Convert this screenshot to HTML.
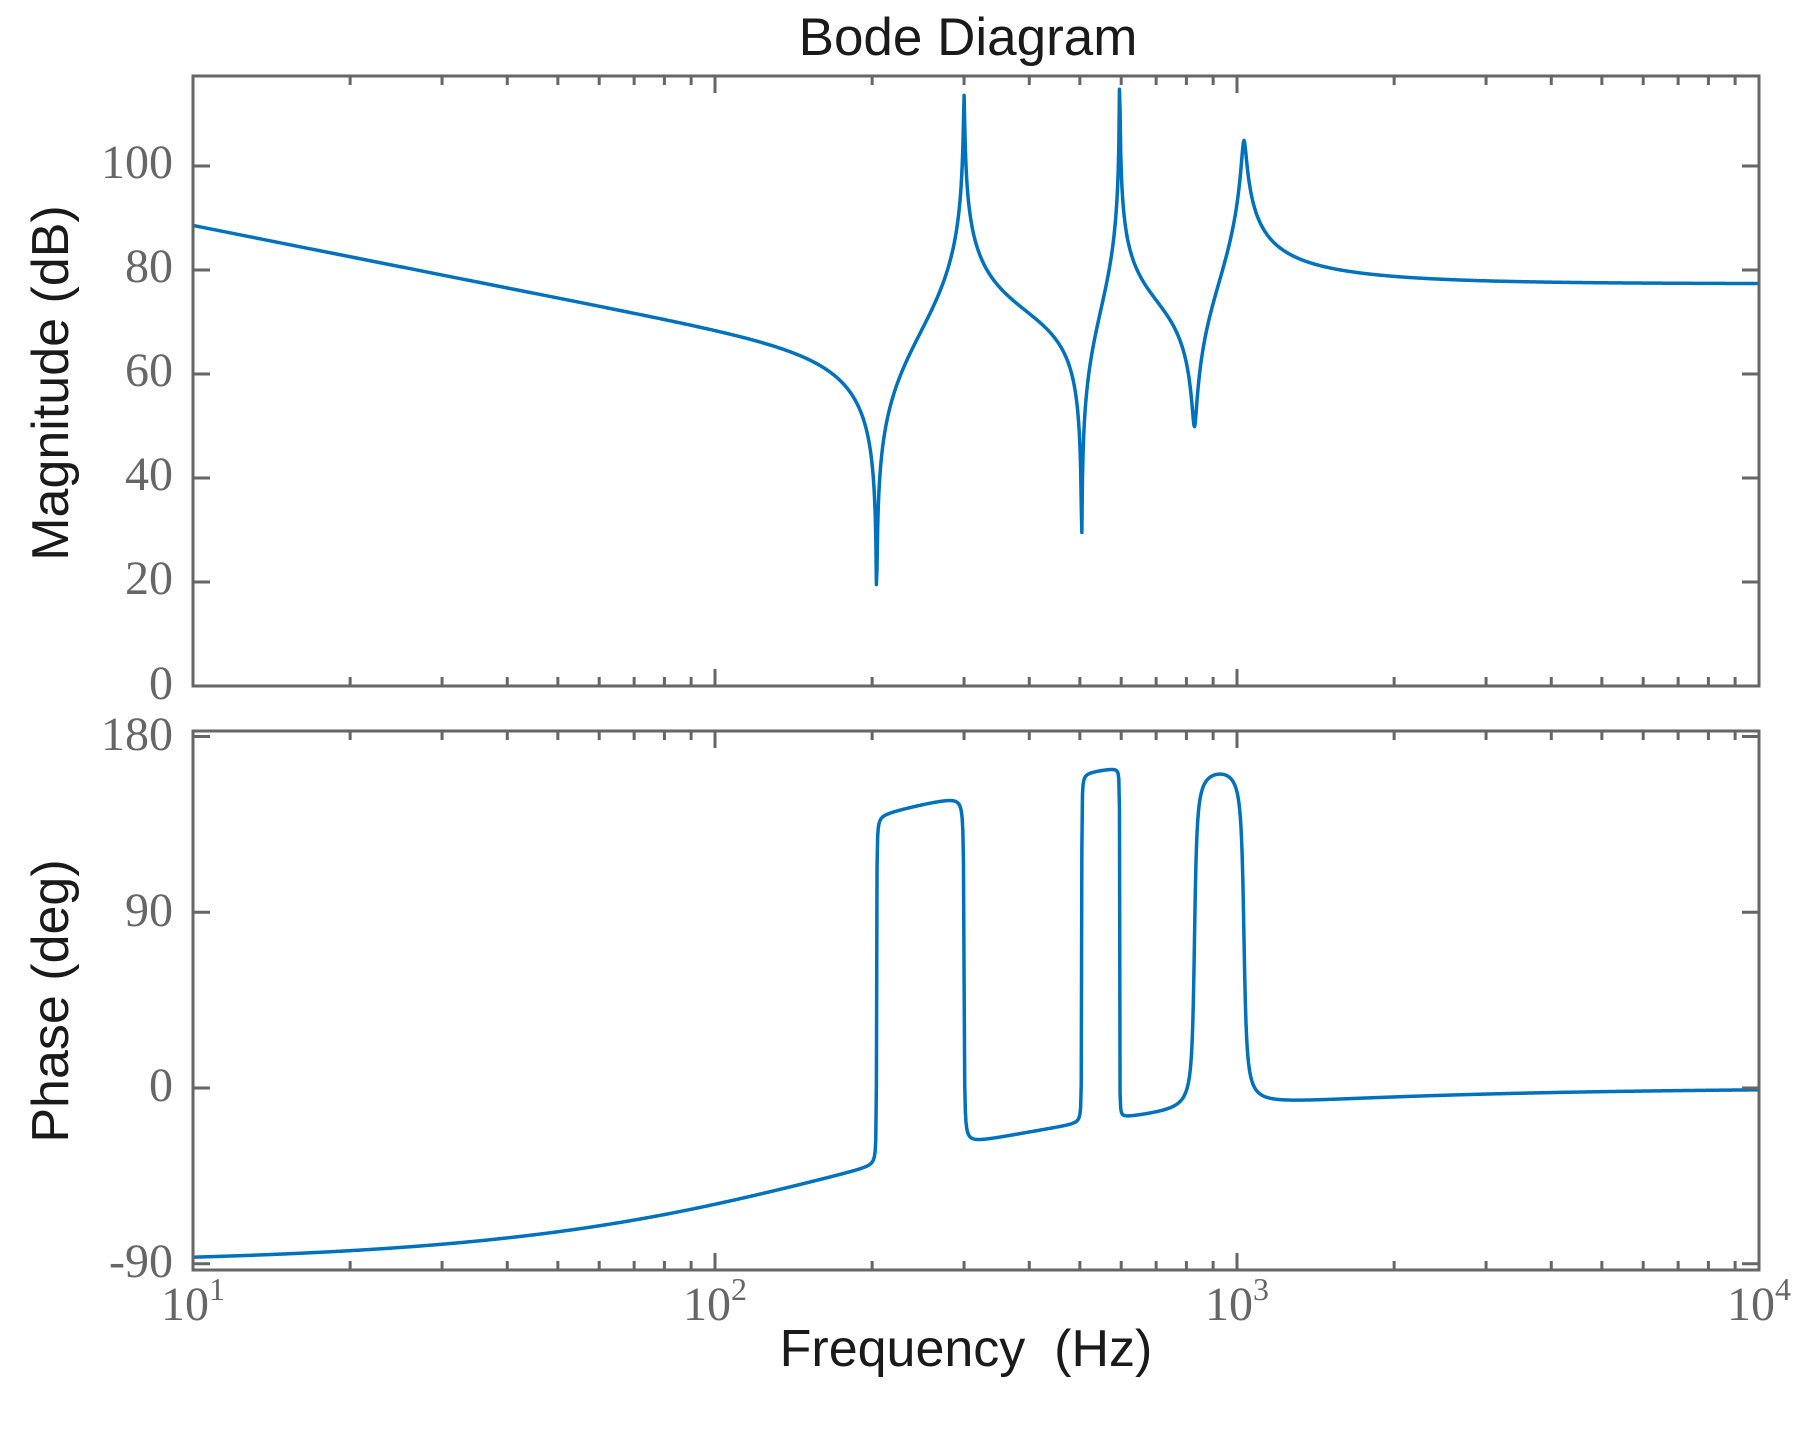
<!DOCTYPE html>
<html><head><meta charset="utf-8"><style>html,body{margin:0;padding:0;background:#fff}svg{display:block}</style></head>
<body>
<svg id="s" width="1808" height="1433" viewBox="0 0 1808 1433" xmlns="http://www.w3.org/2000/svg">
<defs>
<clipPath id="c1"><rect x="193" y="76" width="1566" height="610"/></clipPath>
<clipPath id="c2"><rect x="193" y="731" width="1566" height="539"/></clipPath>
</defs>
<rect width="1808" height="1433" fill="#fff"/>
<path id="magp" d="" fill="none" stroke="#0072BD" stroke-width="3.5" stroke-linejoin="round" clip-path="url(#c1)"/>
<path id="php" d="" fill="none" stroke="#0072BD" stroke-width="3.5" stroke-linejoin="round" clip-path="url(#c2)"/>
<g id="ticks" stroke="#666" stroke-width="3" fill="none"></g>
<rect x="193" y="76" width="1566" height="610" fill="none" stroke="#666" stroke-width="3"/>
<rect x="193" y="731" width="1566" height="539" fill="none" stroke="#666" stroke-width="3"/>
<g font-family="Liberation Serif, serif" font-size="48" fill="#666" text-anchor="end">
<text x="173" y="178">100</text>
<text x="173" y="282">80</text>
<text x="173" y="386">60</text>
<text x="173" y="490">40</text>
<text x="173" y="594">20</text>
<text x="173" y="699">0</text>
<text x="173" y="750">180</text>
<text x="173" y="926">90</text>
<text x="173" y="1101">0</text>
<text x="173" y="1277">-90</text>
</g>
<g font-family="Liberation Serif, serif" fill="#666" text-anchor="middle">
<text x="193" y="1320" font-size="48">10<tspan font-size="32" dy="-20">1</tspan></text>
<text x="715" y="1320" font-size="48">10<tspan font-size="32" dy="-20">2</tspan></text>
<text x="1237" y="1320" font-size="48">10<tspan font-size="32" dy="-20">3</tspan></text>
<text x="1759" y="1320" font-size="48">10<tspan font-size="32" dy="-20">4</tspan></text>
</g>
<g font-family="Liberation Sans, sans-serif" fill="#1a1a1a" text-anchor="middle" font-size="52">
<text x="968" y="55" font-size="53">Bode Diagram</text>
<text x="966" y="1366" style="white-space:pre">Frequency  (Hz)</text>
<text transform="translate(68,383) rotate(-90)">Magnitude (dB)</text>
<text transform="translate(68,1001) rotate(-90)">Phase (deg)</text>
</g>
</svg>
<script>
(function(){
var X0=193,DEC=522;
function fx(f){return X0+(Math.log10(f)-1)*DEC;}
function ymag(d){return 686-d*5.2;}
function yph(p){return 1088-p*1.953;}
var t='';
for(var d=1;d<=3;d++){for(var m=1;m<=9;m++){var f=m*Math.pow(10,d);if(f>=1e4)break;var x=fx(f);
 var L=(m==1)?17:9;
 if(m==1&&d==1)continue;
 t+='M'+x+' 76v'+L+'M'+x+' 686v-'+L+'M'+x+' 731v'+L+'M'+x+' 1270v-'+L;}}
[0,20,40,60,80,100].forEach(function(v){var y=ymag(v);t+='M193 '+y+'h17M1759 '+y+'h-17';});
[-90,0,90,180].forEach(function(v){var y=yph(v);t+='M193 '+y+'h17M1759 '+y+'h-17';});
var tp=document.createElementNS('http://www.w3.org/2000/svg','path');tp.setAttribute('d',t);document.getElementById('ticks').appendChild(tp);
var a=170;
var zs=[[204,0.0009],[504,0.0007],[829,0.008]];
var ps=[[300,0.0018],[596,0.0004],[1031,0.009]];
function H(f){
 var re=a,im=f;
 var r2=im, i2=-re; re=r2/f; im=i2/f;
 function mul(cr,ci){var nr=re*cr-im*ci, ni=re*ci+im*cr; re=nr; im=ni;}
 function div(cr,ci){var d=cr*cr+ci*ci; var nr=(re*cr+im*ci)/d, ni=(im*cr-re*ci)/d; re=nr; im=ni;}
 zs.forEach(function(z){mul(z[0]*z[0]-f*f,2*z[1]*z[0]*f);});
 ps.forEach(function(p){div(p[0]*p[0]-f*f,2*p[1]*p[0]*f);});
 return [re,im];
}
var hh=H(1e4);var K=77.4-20*Math.log10(Math.hypot(hh[0],hh[1]));
var dm='',dp='',N=2500;
for(var i=0;i<=N;i++){
 var lf=1+3*i/N, f=Math.pow(10,lf);
 var h=H(f);
 var db=20*Math.log10(Math.hypot(h[0],h[1]))+K;
 if(db>130)db=130;
 var ph=Math.atan2(h[1],h[0])*180/Math.PI;
 if(ph<=-100)ph+=360;
 var x=(X0+(lf-1)*DEC).toFixed(2);
 dm+=(i?'L':'M')+x+' '+ymag(db).toFixed(2);
 dp+=(i?'L':'M')+x+' '+yph(ph).toFixed(2);
}
document.getElementById('magp').setAttribute('d',dm);
document.getElementById('php').setAttribute('d',dp);
})();
</script>
</body></html>
